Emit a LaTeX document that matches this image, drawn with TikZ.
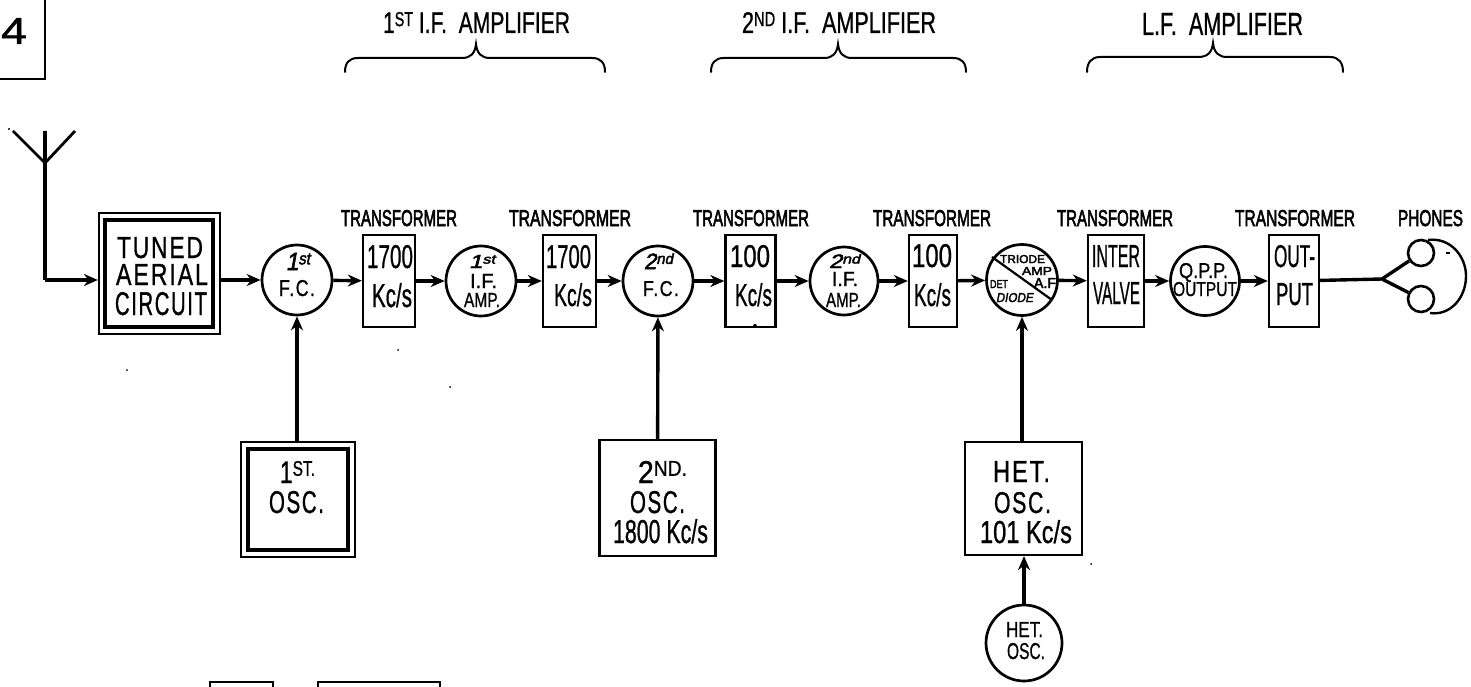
\documentclass[tikz,border=0pt]{standalone}
\usepackage{fontspec}
\usepackage{graphicx}
\usetikzlibrary{arrows.meta}
\setmainfont[FakeBold=1]{Liberation Sans}
\newfontfamily\labfont[FakeBold=3]{Liberation Sans}
\newfontfamily\itfont[FakeSlant=0.2,FakeBold=2.5]{Liberation Sans}
\newfontfamily\widefont[LetterSpace=8,FakeBold=1]{Liberation Sans}
\newcommand{\fs}[1]{\fontsize{#1}{#1}\selectfont}
\newcommand{\upt}[1]{\raisebox{0.23em}{\scalebox{0.68}{#1}}}
% name, x-left, x-right, y-top of capitals, baseline, text
\newcommand{\tx}[6]{%
  \pgfmathsetmacro\twd{#3-(#2)}%
  \pgfmathsetmacro\tht{#5-(#4)}%
  \node[txt] (#1) at (#2,#5) {\resizebox{\twd pt}{\tht pt}{\fs{20}#6}};}
\tikzset{
  x=1pt,y=-1pt,
  txt/.style={anchor=base west,inner sep=0pt,outer sep=0pt},
  xbox/.style={draw,line width=2.4pt,rectangle,inner sep=0pt,minimum width=#1,minimum height=92pt},
  outerbox/.style={draw,line width=2.2pt,rectangle,inner sep=0pt},
  inbox/.style={draw,line width=3.2pt,rectangle,inner sep=0pt},
  valve/.style={draw,line width=2.7pt,circle,inner sep=0pt,minimum size=#1},
  link/.style={line width=3.4pt,-{Stealth[length=14pt,width=12pt]}},
  brace/.style={line width=2pt,line cap=round},
  plain/.style={line width=3.4pt},
}
\begin{document}
\begin{tikzpicture}
\useasboundingbox (0,0) rectangle (1471,687);
% top-left fragment
\coordinate (tl1) at (-2,79); \coordinate (tl2) at (45,79); \coordinate (tl3) at (45,-2);
\draw[line width=2.4pt] (tl1) -- (tl2) -- (tl3);
\tx{four}{1}{27}{18}{44}{4}
% aerial
\coordinate (ay) at (45,163); \coordinate (ayl) at (13,131); \coordinate (ayr) at (75,131);
\coordinate (ayt) at (45,131); \coordinate (ac) at (45,280);
\draw[line width=2.8pt] (ayl) -- (ay) -- (ayr) (ayt) -- (ay);
% main chain
\node[outerbox,minimum width=121pt,minimum height=121pt] (tunedo) at (159.5,273.5) {};
\node[inbox,minimum width=108pt,minimum height=107pt] (tuned) at (159,273.5) {};
\tx{t01}{117}{203}{237}{258}{\widefont TUNED}
\tx{t02}{116}{208}{264}{285}{\widefont AERIAL}
\tx{t03}{115}{207}{292}{315}{\widefont CIRCUIT}
\node[valve=70pt] (fc1) at (297,280) {};
\tx{a1}{286}{310}{253}{270}{\itfont 1\upt{st}}
\tx{a2}{279}{315}{280}{296}{\widefont F.C.}
\node[xbox=52pt] (t1) at (389,281) {};
\tx{b1}{367}{413}{245}{268}{1700}
\tx{b2}{372}{412}{283}{307}{Kc/s}
\node[valve=70pt] (if1) at (481,281) {};
\tx{c1}{469}{495}{255}{268}{\itfont 1\upt{st}}
\tx{c2}{470}{497}{274}{288}{I.F.}
\tx{c3}{464}{500}{293}{307}{AMP.}
\node[xbox=53pt] (t2) at (569.5,281) {};
\tx{d1}{546}{591}{245}{268}{1700}
\tx{d2}{554}{592}{283}{306}{Kc/s}
\node[valve=70pt] (fc2) at (658,281) {};
\tx{e1}{644}{673}{253}{269}{\itfont 2\upt{nd}}
\tx{e2}{643}{679}{281}{296}{\widefont F.C.}
\node[xbox=50pt] (t3) at (750.5,281) {};
\tx{f1}{730}{770}{245}{267}{100}
\tx{f2}{735}{772}{283}{306}{Kc/s}
\node[valve=68pt] (if2) at (844,281) {};
\tx{g1}{829}{860}{254}{268}{\itfont 2\upt{nd}}
\tx{g2}{832}{858}{272}{286}{I.F.}
\tx{g3}{826}{861}{293}{307}{AMP.}
\node[xbox=48pt] (t4) at (933,281) {};
\tx{h1}{912}{952}{244}{267}{100}
\tx{h2}{914}{951}{283}{306}{Kc/s}
\node[valve=71pt] (det) at (1022,280) {};
\node[xbox=56pt] (t5) at (1116,281) {};
\tx{i1}{1092}{1140}{245}{267}{INTER}
\tx{i2}{1093}{1140}{282}{304}{VALVE}
\node[valve=69pt] (qpp) at (1205,281) {};
\tx{j1}{1179}{1228}{263}{278}{Q.P.P.}
\tx{j2}{1173}{1237}{282}{296}{OUTPUT}
\node[xbox=50pt] (t6) at (1294,281) {};
\tx{k1}{1274}{1315}{245}{267}{OUT-}
\tx{k2}{1276}{1313}{283}{305}{PUT}
% detector interior
\coordinate (dd1) at (992,257); \coordinate (dd2) at (1052,300);
\draw[line width=2.2pt] (dd1) -- (dd2);
\tx{dt1}{1000}{1045}{255}{263}{\labfont TRIODE}
\tx{dt2}{1022}{1052}{267}{275}{\labfont AMP}
\tx{dt3}{1034}{1056}{278}{288}{\labfont A.F}
\tx{dt4}{990}{1008}{280}{288}{\labfont DET}
\tx{dt5}{996}{1033}{293}{302}{\itfont DIODE}
% lower boxes
\node[outerbox,minimum width=114pt,minimum height=115pt] (o1o) at (298,499.5) {};
\node[inbox,minimum width=100pt,minimum height=101pt] (o1) at (298,499.5) {};
\tx{m1}{280}{315}{461}{483}{1\upt{ST.}}
\tx{m2}{269}{324}{491}{513}{\widefont OSC.}
\node[outerbox,minimum width=116pt,minimum height=116pt] (o2) at (657.5,498) {};
\tx{n1}{638}{687}{461}{483}{2\upt{ND.}}
\tx{n2}{630}{685}{491}{513}{\widefont OSC.}
\tx{n3}{613}{708}{519}{543}{1800 Kc/s}
\node[outerbox,minimum width=117pt,minimum height=113pt] (o3) at (1023.5,498.5) {};
\tx{p1}{993}{1050}{461}{482}{\widefont HET.}
\tx{p2}{994}{1051}{492}{513}{\widefont OSC.}
\tx{p3}{980}{1072}{520}{543}{101 Kc/s}
\node[valve=76pt] (o4) at (1024,643) {};
\tx{q1}{1006}{1043}{622}{637}{HET.}
\tx{q2}{1007}{1045}{643}{659}{OSC.}
% fragments at the bottom
\coordinate (f1a) at (210,689); \coordinate (f1b) at (210,682); \coordinate (f1c) at (273,682); \coordinate (f1d) at (273,689);
\coordinate (f2a) at (318,689); \coordinate (f2b) at (318,682); \coordinate (f2c) at (440,682); \coordinate (f2d) at (440,689);
\draw[line width=2.4pt] (f1a) -- (f1b) -- (f1c) -- (f1d);
\draw[line width=2.4pt] (f2a) -- (f2b) -- (f2c) -- (f2d);
% connectors
\draw[plain] (ayt) -- (ac);
\draw[link] (ac) -- (tunedo.west |- ac);
\draw[link] (tunedo.east |- fc1) -- (fc1);
\draw[link] (fc1) -- (t1);
\draw[link] (t1) -- (if1);
\draw[link] (if1) -- (t2);
\draw[link] (t2) -- (fc2);
\draw[link] (fc2) -- (t3);
\draw[link] (t3) -- (if2);
\draw[link] (if2) -- (t4);
\draw[link] (t4) -- (det);
\draw[link] (det) -- (t5);
\draw[link] (t5) -- (qpp);
\draw[link] (qpp) -- (t6);
\draw[link] (o1o.north -| fc1) -- (fc1);
\draw[link] (o2) -- (fc2);
\draw[link] (o3.north -| det) -- (det);
\draw[link] (o4.north) -- (o4.north |- o3.south);
% labels
\tx{l1}{341}{457}{210}{226}{\labfont TRANSFORMER}
\tx{l2}{509}{631}{210}{226}{\labfont TRANSFORMER}
\tx{l3}{693}{809}{210}{226}{\labfont TRANSFORMER}
\tx{l4}{873}{991}{210}{226}{\labfont TRANSFORMER}
\tx{l5}{1057}{1173}{210}{226}{\labfont TRANSFORMER}
\tx{l6}{1235}{1355}{210}{226}{\labfont TRANSFORMER}
\tx{l7}{1398}{1463}{210}{226}{\labfont PHONES}
\tx{h01}{383}{570}{12}{33}{1\upt{ST} I.F.\ \ AMPLIFIER}
\tx{h02}{742}{936}{12}{33}{2\upt{ND} I.F.\ \ AMPLIFIER}
\tx{h03}{1142}{1303}{13}{35}{L.F.\ \ AMPLIFIER}
% braces
\draw[brace] (345,72) .. controls (345,63) and (349,58) .. (358,58) -- (462,58) .. controls (470,58) and (475,54) .. (476,44) .. controls (477,54) and (482,58) .. (490,58) -- (592,58) .. controls (601,58) and (605,63) .. (605,72);
\draw[brace] (711,72) .. controls (711,63) and (715,58) .. (724,58) -- (824,58) .. controls (832,58) and (837,54) .. (838,44) .. controls (839,54) and (844,58) .. (852,58) -- (953,58) .. controls (962,58) and (966,63) .. (966,72);
\draw[brace] (1087,72) .. controls (1087,63) and (1091,57) .. (1100,57) -- (1198,57) .. controls (1207,57) and (1212,53) .. (1213,43) .. controls (1214,53) and (1219,57) .. (1227,57) -- (1330,57) .. controls (1339,57) and (1343,63) .. (1343,72);
% phones
\node[draw,line width=2.6pt,circle,minimum size=26pt,inner sep=0pt] (ear1) at (1421,253) {};
\node[draw,line width=2.6pt,circle,minimum size=26pt,inner sep=0pt] (ear2) at (1421,299) {};
\coordinate (fork) at (1382,279);
\draw[plain] (t6) -- (fork);
\draw[plain] (fork) -- (ear1);
\draw[plain] (fork) -- (ear2);
\draw[line width=2.4pt] (1428,240) .. controls (1450,237) and (1466,256) .. (1466,276) .. controls (1466,298) and (1450,316) .. (1430,313);
\fill (1446,251.5) rectangle (1450,253.5);
% specks
\fill (9,129) circle (1.2pt) (398,350) circle (1pt) (450,387) circle (1pt) (1091,564) circle (1pt) (755,326) circle (2pt) (127,370) circle (1pt);
\end{tikzpicture}
\end{document}
